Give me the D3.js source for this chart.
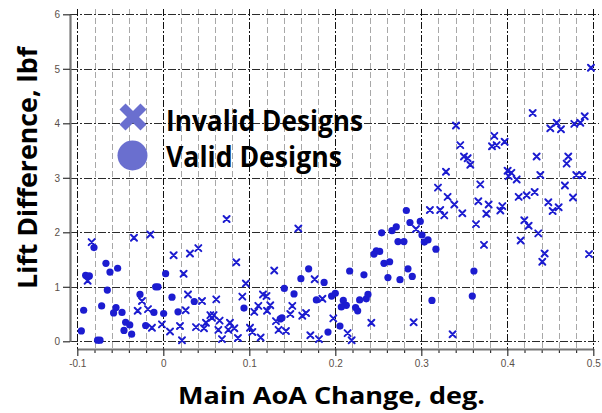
<!DOCTYPE html>
<html><head><meta charset="utf-8">
<script src="https://cdn.jsdelivr.net/npm/d3@7"></script>
<style>body{margin:0;background:#fff}svg{display:block}</style>
</head><body>
<script>
const xTicks = [-0.1, 0, 0.1, 0.2, 0.3, 0.4, 0.5];
const xTickLabels = ["-0.1", "0", "0.1", "0.2", "0.3", "0.4", "0.5"];
const yTicks = [0, 1, 2, 3, 4, 5, 6];
const legendLabels = ["Invalid Designs", "Valid Designs"];
const xTitle = "Main AoA Change, deg.";
const yTitle = "Lift Difference, lbf";

const validX = [-0.0806,-0.0667,-0.0531,-0.062,0.0027,-0.0903,-0.086,-0.0089,-0.0062,-0.0651,0.1407,0.152,-0.0271,0.0101,0.036,-0.0717,-0.055,-0.0926,0.0938,-0.0578,-0.048,-0.0109,0.0171,0.0004,0.136,0.138,-0.0438,-0.039,-0.0205,-0.0457,-0.0953,-0.0368,-0.0764,-0.0736,
0.169,0.160,0.187,0.178,
0.2826,0.2868,0.2988,0.2709,0.2659,0.2539,0.3008,0.3035,0.3078,0.2729,0.2798,0.317,0.2516,0.2477,0.245,0.2566,0.2632,0.2167,0.2333,0.2612,0.2752,0.2845,0.2895,0.3612,0.1957,0.2,0.2093,0.2128,0.207,0.2236,0.226,0.2283,0.236,0.238,0.3124,0.3593,0.2054,0.1915];
const validY = [1.72,1.43,1.34,1.27,1.24,1.21,1.20,1.0,1.0,0.94,0.97,0.87,0.86,0.81,0.73,0.65,0.62,0.57,0.61,0.52,0.53,0.53,0.54,0.51,0.41,0.43,0.35,0.30,0.29,0.20,0.19,0.13,0.02,0.02,
1.33,1.15,1.08,0.76,
2.40,2.18,2.20,2.10,2.03,1.99,1.95,1.82,1.86,1.83,1.83,1.69,1.65,1.66,1.60,1.43,1.46,1.29,1.22,1.17,1.13,1.33,1.19,1.29,0.83,0.88,0.75,0.66,0.63,0.62,0.56,0.76,0.78,0.86,0.75,0.83,0.28,0.17];

const invalidX = [0.0736,-0.0833,-0.0341,-0.0151,0.0407,0.031,0.012,0.0849,0.129,0.0236,-0.088,0.096,0.0287,0.1159,0.120,0.0919,-0.0248,0.045,0.0616,0.1244,0.1105,0.150,-0.0178,-0.0298,0.026,0.1206,0.1058,0.0547,0.0585,0.0566,0.0496,0.0655,0.0775,0.1477,0.131,-0.0132,-0.0016,0.0194,0.038,0.0473,0.064,0.0756,0.0826,0.1008,0.1035,0.134,0.1426,0.0078,0.0682,0.0868,0.0217,0.1132,
0.157,0.176,0.185,0.166,0.1616,0.171,0.181,
0.1977,0.2143,0.219,0.2419,0.2911,0.3364,
0.310,0.322,0.3267,0.3384,0.3477,0.3663,0.3783,0.3756,0.3919,0.3942,0.3636,0.2938,0.3729,
0.4155,0.4198,0.4248,0.436,0.4434,0.4407,0.495,0.4477,0.4527,0.4597,
0.4973,0.4295,0.490,0.4849,0.4779,0.4574,0.45,0.4624,0.3403,0.3453,0.3849,0.3822,0.3876,0.3969,0.3496,0.3539,0.357,0.4341,0.4709,0.469,0.3287,0.4004,0.4047,0.4016,0.4109,0.4384,0.4802,0.4872,0.3194,0.3686,0.3306,0.4132,0.4225,0.4318,0.467,0.4764];
const invalidY = [2.245,1.82,1.90,1.96,1.71,1.61,1.58,1.45,1.30,1.24,1.11,1.06,0.86,0.86,0.83,0.82,0.74,0.74,0.77,0.66,0.65,0.65,0.59,0.56,0.57,0.56,0.54,0.48,0.48,0.43,0.34,0.38,0.34,0.50,0.37,0.25,0.31,0.28,0.26,0.24,0.21,0.21,0.24,0.25,0.17,0.21,0.19,0.18,0.04,0.06,0.02,0.07,
2.07,1.14,0.78,0.52,0.47,0.11,0.04,
0.42,0.15,0.02,0.34,0.35,0.13,
2.41,2.41,2.31,2.51,2.35,2.57,2.51,2.34,2.40,2.48,2.15,2.06,1.77,
1.85,2.22,2.12,1.98,1.61,1.46,1.60,2.55,2.39,2.46,
5.02,4.19,4.13,4.01,3.99,4.01,3.91,3.89,3.96,3.60,3.77,3.58,3.60,3.66,3.39,3.36,3.24,3.39,3.39,3.26,3.11,3.13,3.09,3.03,2.97,3.05,3.05,3.05,2.82,2.88,2.65,2.65,2.68,2.74,2.86,2.64];

const W = 602, H = 413;
const svg = d3.select("body").append("svg").attr("width", W).attr("height", H);

const x = d3.scaleLinear().domain([-0.1, 0.5]).range([77.3, 593.3]);
const y = d3.scaleLinear().domain([0, 6]).range([341.3, 14.3]);

const grid = svg.append("g");
const minorVals = d3.range(0, 31).map(i => -0.1 + i * 0.02).filter((v, i) => i % 5 !== 0);
grid.selectAll("line.minor").data(minorVals).enter().append("line")
  .attr("x1", d => Math.round(x(d)) + 0.5).attr("x2", d => Math.round(x(d)) + 0.5)
  .attr("y1", 9).attr("y2", 349)
  .attr("stroke", "#a8a8a8").attr("stroke-width", 1).attr("stroke-dasharray", "6,3");
grid.selectAll("line.h").data(yTicks).enter().append("line")
  .attr("x1", 70).attr("x2", 599)
  .attr("y1", d => Math.round(y(d)) + 0.5).attr("y2", d => Math.round(y(d)) + 0.5)
  .attr("stroke", "#2a2a2a").attr("stroke-width", 1).attr("stroke-dasharray", "8,2,2,2");
grid.selectAll("line.major").data(xTicks).enter().append("line")
  .attr("x1", d => Math.round(x(d)) + 0.5).attr("x2", d => Math.round(x(d)) + 0.5)
  .attr("y1", 9).attr("y2", 349)
  .attr("stroke", "#111").attr("stroke-width", 1).attr("stroke-dasharray", "7,2,2,2");

const yAxis = d3.axisLeft(y).tickValues(yTicks).tickSize(7).tickSizeOuter(0).tickPadding(3).tickFormat(d3.format("d"));
const gy = svg.append("g").attr("transform", "translate(70,0)").call(yAxis);
gy.select(".domain").attr("stroke", "#777").attr("stroke-width", 2.2);
gy.selectAll(".tick line").attr("stroke", "#333").attr("stroke-width", 1.2);
gy.selectAll("text").attr("font-family", "Liberation Sans, Arial, sans-serif").attr("font-size", 10).attr("fill", "#5a4f48");

const minorAxis = d3.axisBottom(x).tickValues(minorVals).tickSize(4).tickSizeOuter(0).tickFormat("");
const gxm = svg.append("g").attr("transform", "translate(0,349)").call(minorAxis);
gxm.select(".domain").remove();
gxm.selectAll(".tick line").attr("stroke", "#333").attr("stroke-width", 1.2);

const xAxis = d3.axisBottom(x).tickValues(xTicks).tickSize(7).tickSizeOuter(0).tickPadding(4)
  .tickFormat((d, i) => xTickLabels[i]);
const gx = svg.append("g").attr("transform", "translate(0,349)").call(xAxis);
gx.select(".domain").attr("stroke", "#777").attr("stroke-width", 2.2);
gx.selectAll(".tick line").attr("stroke", "#333").attr("stroke-width", 1.2);
gx.selectAll("text").attr("font-family", "Liberation Sans, Arial, sans-serif").attr("font-size", 10).attr("fill", "#5a4f48");

const invalid = invalidX.map((v, i) => [v, invalidY[i]]);
const valid = validX.map((v, i) => [v, validY[i]]);
const ptColor = "#1c1cd0";

svg.append("g").selectAll("circle").data(valid).enter().append("circle")
  .attr("cx", d => x(d[0])).attr("cy", d => y(d[1])).attr("r", 3.6)
  .attr("fill", ptColor);

const s = 3;
svg.append("g").selectAll("path").data(invalid).enter().append("path")
  .attr("d", d => {
    const cx = x(d[0]), cy = y(d[1]);
    return `M${cx - s},${cy - s}L${cx + s},${cy + s}M${cx - s},${cy + s}L${cx + s},${cy - s}`;
  })
  .attr("stroke", ptColor).attr("stroke-width", 2).attr("fill", "none")
  .attr("stroke-linecap", "round");

const lg = svg.append("g");
const lc = "#6a6fcf";
const L = 10.5;
lg.append("path")
  .attr("d", `M${133 - L},${117 - L}L${133 + L},${117 + L}M${133 - L},${117 + L}L${133 + L},${117 - L}`)
  .attr("stroke", lc).attr("stroke-width", 8.5).attr("fill", "none");
lg.append("circle").attr("cx", 132.5).attr("cy", 155.5).attr("r", 15).attr("fill", lc);
const tf = "'Open Sans', sans-serif";
lg.append("text").attr("x", 166).attr("y", 131).text(legendLabels[0])
  .attr("font-family", tf).attr("font-weight", "bold").attr("font-size", 28)
  .attr("textLength", 197).attr("lengthAdjust", "spacingAndGlyphs").attr("fill", "#000");
lg.append("text").attr("x", 166).attr("y", 167).text(legendLabels[1])
  .attr("font-family", tf).attr("font-weight", "bold").attr("font-size", 28)
  .attr("textLength", 176).attr("lengthAdjust", "spacingAndGlyphs").attr("fill", "#000");

svg.append("text").attr("x", 178).attr("y", 404).text(xTitle)
  .attr("font-family", tf).attr("font-weight", "bold").attr("font-size", 24)
  .attr("textLength", 307).attr("lengthAdjust", "spacingAndGlyphs").attr("fill", "#000");
svg.append("text").attr("transform", "translate(37,289) rotate(-90)").text(yTitle)
  .attr("font-family", tf).attr("font-weight", "bold").attr("font-size", 27)
  .attr("textLength", 242).attr("lengthAdjust", "spacingAndGlyphs").attr("fill", "#000");
</script>
</body></html>
